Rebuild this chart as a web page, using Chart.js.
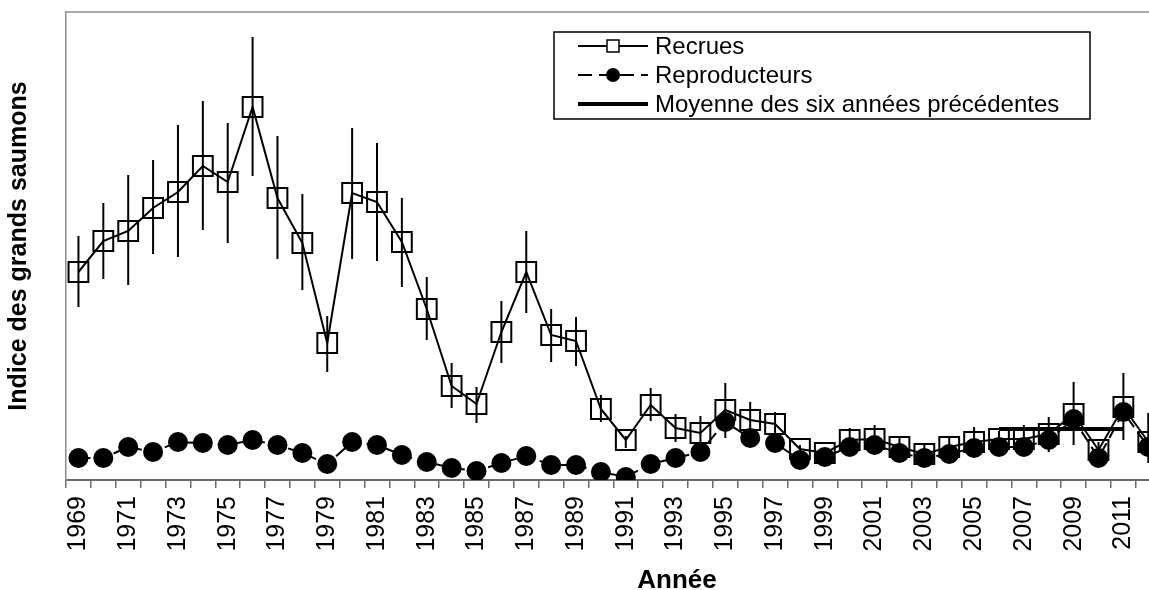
<!DOCTYPE html>
<html>
<head>
<meta charset="utf-8">
<script src="https://cdn.jsdelivr.net/npm/chart.js@4.4.0/dist/chart.umd.min.js"></script>
<style>
  html, body { margin: 0; padding: 0; background: #fff; overflow: hidden; }
  #wrap { position: relative; width: 1149px; height: 590px; }
</style>
</head>
<body>
<div id="wrap"><canvas id="saumons"></canvas></div>
<script>
const years = [1969, 1970, 1971, 1972, 1973, 1974, 1975, 1976, 1977, 1978,
  1979, 1980, 1981, 1982, 1983, 1984, 1985, 1986, 1987, 1988,
  1989, 1990, 1991, 1992, 1993, 1994, 1995, 1996, 1997, 1998,
  1999, 2000, 2001, 2002, 2003, 2004, 2005, 2006, 2007, 2008,
  2009, 2010, 2011, 2012];

// indice des recrues (unités arbitraires)
const recrues = [208, 239, 249, 272, 288, 314, 298, 373, 282, 237,
  137, 287, 278, 238, 171, 94, 76, 148, 208, 145,
  139, 71, 40, 75, 52, 47, 70, 60, 56, 31,
  27, 40, 41, 33, 26, 33, 38, 41, 41, 46,
  66, 30, 73, 38];

// bornes des barres d'erreur des recrues
const recruesBas = [173, 201, 195, 226, 223, 250, 237, 304, 221, 190,
  108, 221, 219, 193, 140, 72, 57, 117, 167, 118,
  114, 58, 32, 59, 38, 36, 42, 48, 45, 27,
  23, 28, 27, 22, 17, 24, 24, 32, 26, 28,
  35, 22, 40, 17];
const recruesHaut = [244, 277, 305, 320, 355, 379, 357, 443, 344, 286,
  164, 352, 337, 282, 203, 117, 93, 179, 249, 171,
  163, 85, 44, 92, 66, 64, 97, 78, 68, 35,
  31, 52, 55, 43, 35, 42, 53, 49, 55, 63,
  98, 38, 107, 67];

const reproducteurs = [22, 22, 33, 28, 38, 37, 35, 40, 35, 27,
  16, 38, 35, 25, 18, 12, 9, 17, 24, 15,
  15, 8, 3, 16, 22, 28, 58, 42, 37, 20,
  23, 33, 35, 27, 22, 26, 32, 33, 33, 40,
  61, 22, 68, 33];

// moyenne des six années précédentes (2006-2011)
const moyenne = [null, null, null, null, null, null, null, null, null, null,
  null, null, null, null, null, null, null, null, null, null,
  null, null, null, null, null, null, null, null, null, null,
  null, null, null, null, null, null, null, 51, 51, 51,
  51, 51, 51, null];

const labelYears = [1969, 1971, 1973, 1975, 1977, 1979, 1981, 1983, 1985, 1987,
  1989, 1991, 1993, 1995, 1997, 1999, 2001, 2003, 2005, 2007, 2009, 2011];

const fontFamily = '"Liberation Sans", Arial, sans-serif';

// ticks: one per year (label) and one per half year (tick mark)
const xTicks = [];
years.forEach((y) => {
  xTicks.push({ value: y - 0.5 });
  xTicks.push({ value: y });
});

const extras = {
  id: "extras",
  beforeDatasetsDraw(chart) {
    const { ctx, scales } = chart;
    ctx.save();
    ctx.strokeStyle = "#000";
    ctx.lineWidth = 2;
    years.forEach((y, i) => {
      const x = scales.x.getPixelForValue(y);
      ctx.beginPath();
      ctx.moveTo(x, scales.y.getPixelForValue(recruesBas[i]));
      ctx.lineTo(x, scales.y.getPixelForValue(recruesHaut[i]));
      ctx.stroke();
    });
    ctx.restore();
  },
  afterDraw(chart) {
    const { ctx, chartArea } = chart;
    ctx.save();
    // top edge of plot area
    ctx.strokeStyle = "#8c8c8c";
    ctx.lineWidth = 1.5;
    ctx.beginPath();
    ctx.moveTo(chartArea.left, chartArea.top);
    ctx.lineTo(chartArea.right, chartArea.top);
    ctx.stroke();

    // legend
    ctx.fillStyle = "#fff";
    ctx.fillRect(554, 32, 536, 87);
    ctx.strokeStyle = "#000";
    ctx.lineWidth = 1.5;
    ctx.strokeRect(554, 32, 536, 87);
    const ds = chart.data.datasets;
    const rows = [46, 75, 104];
    ctx.font = "24px " + fontFamily;
    ctx.textBaseline = "middle";
    ctx.textAlign = "left";
    ds.forEach((d, i) => {
      const y = rows[i];
      ctx.strokeStyle = "#000";
      ctx.lineWidth = d.borderWidth;
      ctx.setLineDash(d.borderDash ? [14, 7] : []);
      ctx.beginPath();
      ctx.moveTo(578, y);
      ctx.lineTo(648, y);
      ctx.stroke();
      ctx.setLineDash([]);
      if (d.pointStyle === "rect") {
        ctx.lineWidth = 1.5;
        ctx.fillStyle = "#fff";
        ctx.fillRect(607, y - 6, 12, 12);
        ctx.strokeRect(607, y - 6, 12, 12);
      } else if (d.pointStyle === "circle" && d.pointRadius > 0) {
        ctx.fillStyle = "#000";
        ctx.beginPath();
        ctx.arc(613, y, 7, 0, Math.PI * 2);
        ctx.fill();
      }
      ctx.fillStyle = "#000";
      ctx.fillText(d.label, 655, y + 1);
    });

    // axis title
    ctx.font = "bold 26px " + fontFamily;
    ctx.textAlign = "center";
    ctx.textBaseline = "alphabetic";
    ctx.fillText("Année", 677, 588);
    ctx.restore();
  }
};

const ctx = document.getElementById("saumons");

new Chart(ctx, {
  type: "line",
  data: {
    labels: years,
    datasets: [
      {
        label: "Recrues",
        data: recrues,
        borderColor: "#000",
        borderWidth: 2,
        pointStyle: "rect",
        pointRadius: 14,
        pointBorderWidth: 2,
        pointBorderColor: "#000",
        pointBackgroundColor: "rgba(0,0,0,0)",
        order: 2,
      },
      {
        label: "Reproducteurs",
        data: reproducteurs,
        borderColor: "#000",
        borderWidth: 2,
        borderDash: [12, 6],
        pointStyle: "circle",
        pointRadius: 10,
        pointBorderWidth: 0,
        pointBackgroundColor: "#000",
        order: 1,
      },
      {
        label: "Moyenne des six années précédentes",
        data: moyenne,
        borderColor: "#000",
        borderWidth: 4,
        pointRadius: 0,
        spanGaps: false,
        order: 0,
      },
    ],
  },
  options: {
    responsive: true,
    maintainAspectRatio: false,
    animation: false,
    devicePixelRatio: 1,
    events: [],
    layout: { autoPadding: false, padding: { top: 12, left: 0, right: 0, bottom: 0 } },
    plugins: {
      legend: { display: false },
      tooltip: { enabled: false },
    },
    scales: {
      x: {
        type: "linear",
        min: 1968.5,
        max: 2012.03,
        afterBuildTicks: (s) => {
          s.ticks = xTicks.map((t) => ({ value: t.value }));
        },
        afterFit: (s) => {
          s.height = 110;
          s.paddingLeft = 0;
          s.paddingRight = 0;
        },
        grid: {
          display: true,
          drawOnChartArea: false,
          drawTicks: true,
          tickLength: 8,
          lineWidth: 1.5,
          color: (c) => (c.tick && Number.isInteger(c.tick.value) ? "rgba(0,0,0,0)" : "#6b6b6b"),
        },
        border: { display: true, color: "#6b6b6b", width: 2 },
        ticks: {
          autoSkip: false,
          minRotation: 90,
          maxRotation: 90,
          padding: 8,
          color: "#000",
          font: { family: fontFamily, size: 25 },
          callback: (v) => (labelYears.includes(v) ? String(v) : ""),
        },
      },
      y: {
        min: 0,
        max: 468,
        afterFit: (s) => {
          s.width = 66;
        },
        ticks: { display: false },
        grid: { display: false, drawTicks: false },
        border: { display: true, color: "#8c8c8c", width: 1.5 },
        title: {
          display: true,
          text: "Indice des grands saumons",
          color: "#000",
          font: { family: fontFamily, size: 25, weight: "bold" },
          padding: { top: 4, bottom: 0 },
        },
      },
    },
  },
  plugins: [extras],
});
</script>
</body>
</html>
